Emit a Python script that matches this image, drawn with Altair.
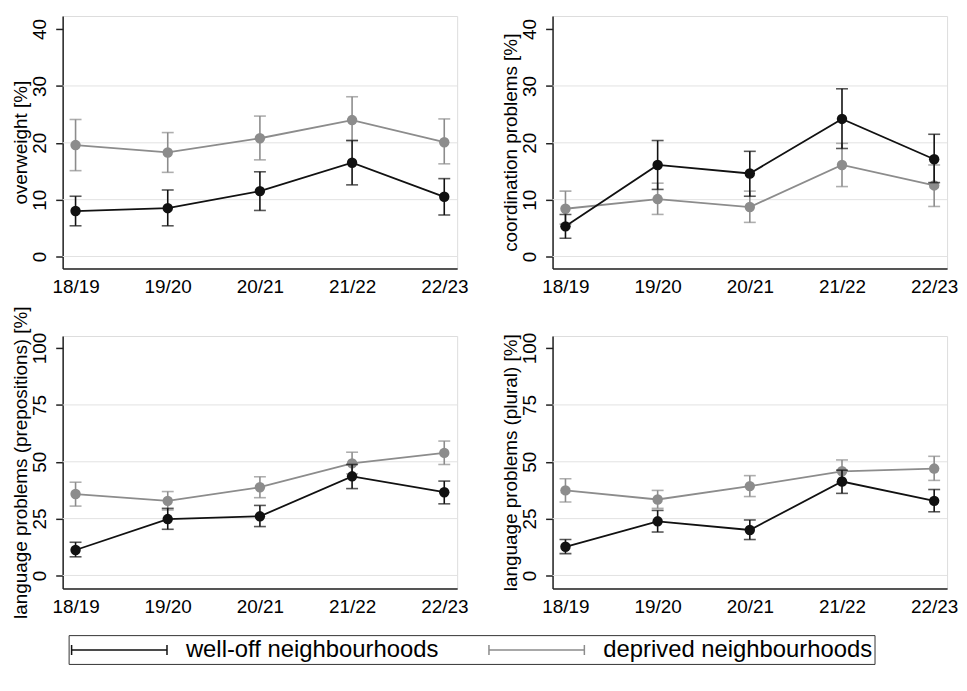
import altair as alt
import pandas as pd

years = ["18/19", "19/20", "20/21", "21/22", "22/23"]
groups = ["well-off neighbourhoods", "deprived neighbourhoods"]

# overweight
ow_well = [8.0, 8.5, 11.5, 16.5, 10.5]
ow_well_lo = [5.4, 5.4, 8.1, 12.6, 7.3]
ow_well_hi = [10.6, 11.7, 14.9, 20.4, 13.7]
ow_dep = [19.6, 18.3, 20.8, 24.0, 20.1]
ow_dep_lo = [15.1, 14.8, 17.0, 20.4, 16.3]
ow_dep_hi = [24.1, 21.8, 24.7, 28.1, 24.2]

# coordination problems
co_well = [5.3, 16.1, 14.6, 24.2, 17.1]
co_well_lo = [3.2, 11.8, 10.6, 19.0, 13.0]
co_well_hi = [7.4, 20.4, 18.5, 29.5, 21.5]
co_dep = [8.4, 10.1, 8.7, 16.1, 12.5]
co_dep_lo = [5.7, 7.4, 6.0, 12.3, 8.8]
co_dep_hi = [11.5, 12.9, 11.5, 19.9, 16.1]

# language problems (prepositions)
pr_well = [11.2, 24.8, 26.0, 43.6, 36.6]
pr_well_lo = [8.2, 20.3, 21.5, 38.2, 31.5]
pr_well_hi = [14.6, 29.5, 30.8, 48.8, 41.5]
pr_dep = [35.8, 32.8, 38.8, 49.3, 53.9]
pr_dep_lo = [30.5, 28.8, 34.2, 44.7, 48.8]
pr_dep_hi = [41.0, 36.9, 43.4, 54.2, 59.1]

# language problems (plural)
pl_well = [12.6, 23.8, 20.0, 41.3, 32.8]
pl_well_lo = [9.6, 19.1, 15.8, 36.1, 28.0]
pl_well_hi = [15.8, 28.6, 24.4, 46.3, 37.8]
pl_dep = [37.4, 33.4, 39.3, 45.8, 47.0]
pl_dep_lo = [32.3, 29.5, 34.7, 41.0, 41.8]
pl_dep_hi = [42.5, 37.4, 43.9, 50.8, 52.4]

top_ticks = [0, 10, 20, 30, 40]
top_grid = [0, 10, 20, 30]
bottom_ticks = [0, 25, 50, 75, 100]
bottom_grid = [0, 25, 50, 75]

panels = [
    ("overweight [%]", (ow_well, ow_well_lo, ow_well_hi), (ow_dep, ow_dep_lo, ow_dep_hi), [-2.1, 42.3], top_ticks, top_grid),
    ("coordination problems [%]", (co_well, co_well_lo, co_well_hi), (co_dep, co_dep_lo, co_dep_hi), [-2.1, 42.3], top_ticks, top_grid),
    ("language problems (prepositions) [%]", (pr_well, pr_well_lo, pr_well_hi), (pr_dep, pr_dep_lo, pr_dep_hi), [-5.7, 105.3], bottom_ticks, bottom_grid),
    ("language problems (plural) [%]", (pl_well, pl_well_lo, pl_well_hi), (pl_dep, pl_dep_lo, pl_dep_hi), [-5.7, 105.3], bottom_ticks, bottom_grid),
]

FONT = "Liberation Sans"
BLACK = "#111111"
GRAY = "#8c8c8c"

legend_obj = alt.Legend(
    title=None, orient="none", legendX=6, legendY=623, direction="horizontal", columns=2,
    symbolType="M-4,-0.42L-4,0.42M-4,0L4,0M4,-0.42L4,0.42", symbolSize=576,
    symbolOffset=36, symbolStrokeWidth=1.5, labelFontSize=24, labelFont=FONT,
    labelColor="black", labelOffset=54, columnPadding=47, padding=2,
    strokeColor="#333333", labelLimit=500,
)
color_scale = alt.Scale(domain=groups, range=[BLACK, GRAY])


def make_panel(title, well, dep, domain, ticks, grid):
    rows = []
    for g, (v, lo, hi) in zip(groups, [well, dep]):
        for i, yr in enumerate(years):
            rows.append({"year": yr, "group": g, "value": v[i], "lo": lo[i], "hi": hi[i]})
    df = pd.DataFrame(rows)
    gdf = pd.DataFrame({"g": grid})

    xenc = alt.X("year:O", sort=years, scale=alt.Scale(type="point", padding=0.14),
                 axis=alt.Axis(title=None, labelAngle=0, ticks=False, grid=False,
                               labelPadding=9, labelFontSize=19, labelFont=FONT,
                               labelColor="black", domainColor="#222222", domainWidth=1.5))
    yscale = alt.Scale(domain=domain, nice=False, zero=False)
    yaxis = alt.Axis(values=ticks, title=title, labelAngle=270, labelAlign="center",
                     labelBaseline="bottom", labelPadding=6, tickSize=7, tickWidth=1.5,
                     tickColor="#222222", domainColor="#222222", domainWidth=1.5,
                     titlePadding=0, labelFontSize=19, titleFontSize=19, labelFont=FONT,
                     titleFont=FONT, titleFontWeight="normal", labelColor="black",
                     titleColor="black", grid=False)

    base = alt.Chart(df)
    gridlayer = alt.Chart(gdf).mark_rule(color="#e2e2e2", strokeWidth=1).encode(
        y=alt.Y("g:Q", scale=yscale, axis=yaxis))

    layers = [gridlayer]
    for g, col in [(groups[1], GRAY), (groups[0], BLACK)]:
        sub = base.transform_filter(alt.datum.group == g)
        layers.append(sub.mark_rule(color=col, strokeWidth=1.6).encode(
            x=xenc, y=alt.Y("lo:Q", scale=yscale), y2="hi:Q"))
        layers.append(sub.mark_tick(color=col, thickness=1.6, size=12).encode(
            x=xenc, y=alt.Y("lo:Q", scale=yscale)))
        layers.append(sub.mark_tick(color=col, thickness=1.6, size=12).encode(
            x=xenc, y=alt.Y("hi:Q", scale=yscale)))
        layers.append(sub.mark_line(strokeWidth=1.8).encode(
            x=xenc, y=alt.Y("value:Q", scale=yscale),
            color=alt.Color("group:N", scale=color_scale, legend=legend_obj)))
        layers.append(sub.mark_circle(color=col, size=110, opacity=1).encode(
            x=xenc, y=alt.Y("value:Q", scale=yscale)))
    return alt.layer(*layers).properties(width=397, height=254)


charts = [make_panel(*p) for p in panels]

chart = alt.concat(
    *charts, columns=2, spacing=alt.RowColnumber(row=68, column=96), bounds="flush"
).resolve_scale(color="shared").properties(
    padding={"left": 3, "top": 5, "right": 0, "bottom": 0}
).configure_view(strokeWidth=0).configure(background="white")

chart.save("out.html", embed_options={"renderer": "svg", "actions": False})
